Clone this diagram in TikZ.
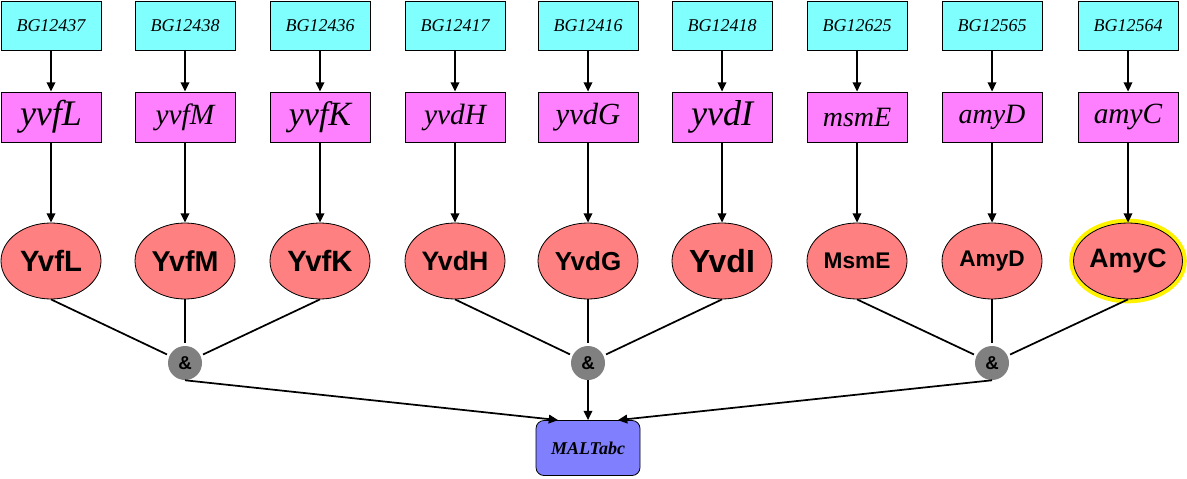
\documentclass[tikz,border=0pt]{standalone}
\usepackage{fontspec}
\setmainfont{Liberation Serif}
\setsansfont{Liberation Sans}
\usetikzlibrary{shapes.geometric,arrows.meta}
\definecolor{bgcyan}{HTML}{80FFFF}
\definecolor{genemag}{HTML}{FF80FF}
\definecolor{protred}{HTML}{FF8080}
\definecolor{andgray}{HTML}{808080}
\definecolor{malblue}{HTML}{8080FF}
\begin{document}
\begin{tikzpicture}[x=0.75pt,y=-0.75pt,
 bgbox/.style={draw,line width=0.6pt,fill=bgcyan,minimum width=75pt,minimum height=36.75pt,inner sep=0pt,font=\itshape\fontsize{13.5}{15}\selectfont},
 genebox/.style={draw,line width=0.6pt,fill=genemag,minimum width=75pt,minimum height=37.5pt,inner sep=0pt,font=\itshape},
 prot/.style={ellipse,draw,line width=0.6pt,fill=protred,minimum width=75pt,minimum height=57pt,inner sep=0pt,font=\sffamily\bfseries},
 glow/.style={preaction={draw=yellow,line width=6.5pt}},
 andnode/.style={circle,fill=andgray,minimum size=25.5pt,inner sep=0pt,font=\sffamily\bfseries\fontsize{14}{15}\selectfont},
 malbox/.style={draw,line width=0.6pt,fill=malblue,rounded corners=6pt,minimum width=78pt,minimum height=41.25pt,font=\bfseries\itshape\fontsize{13.5}{15}\selectfont},
 arr/.style={-{Triangle[length=7pt,width=6.5pt]},line width=1.3pt},
 link/.style={line width=1.3pt,shorten >=2pt}]
\useasboundingbox (0,0) rectangle (1187,478);
% genes
\foreach \i/\x/\bg/\gene/\gs in {1/51/BG12437/yvfL/27,2/185/BG12438/yvfM/22,3/320/BG12436/yvfK/25.5,4/455/BG12417/yvdH/22,5/588/BG12416/yvdG/23,6/722/BG12418/yvdI/27,7/857/BG12625/msmE/21,8/992/BG12565/amyD/21,9/1128/BG12564/amyC/22}{
\node[bgbox] (bg\i) at (\x,26) {\bg};\node[genebox] (gene\i) at (\x,117) {\fontsize{\gs}{\gs}\selectfont\gene};\draw[arr] (bg\i)--(gene\i);}
% proteins
\foreach \i/\x/\prot/\ps in {1/51/YvfL/22,2/185/YvfM/21.5,3/320/YvfK/22,4/455/YvdH/20,5/588/YvdG/19.5,6/722/YvdI/24,7/857/MsmE/17,8/992/AmyD/17}{\node[prot] (prot\i) at (\x,261) {\fontsize{\ps}{\ps}\selectfont\prot};}
\node[prot,glow] (prot9) at (1128,261) {\fontsize{20}{20}\selectfont AmyC};
\foreach \i in {1,...,9}{\draw[arr] (gene\i)--(prot\i);}
% complex
\foreach \k/\x in {1/185,2/588,3/992}{\node[andnode] (and\k) at (\x,363) {\&};}
\foreach \i/\k in {1/1,2/1,3/1,4/2,5/2,6/2,7/3,8/3,9/3}{\draw[link] (prot\i.south)--(and\k);}
\node[malbox] (mal) at (588,448) {MALTabc};
\draw[arr] (and1.south)--(mal.137);\draw[arr] (and2)--(mal);\draw[arr] (and3.south)--(mal.43);
\end{tikzpicture}
\end{document}
